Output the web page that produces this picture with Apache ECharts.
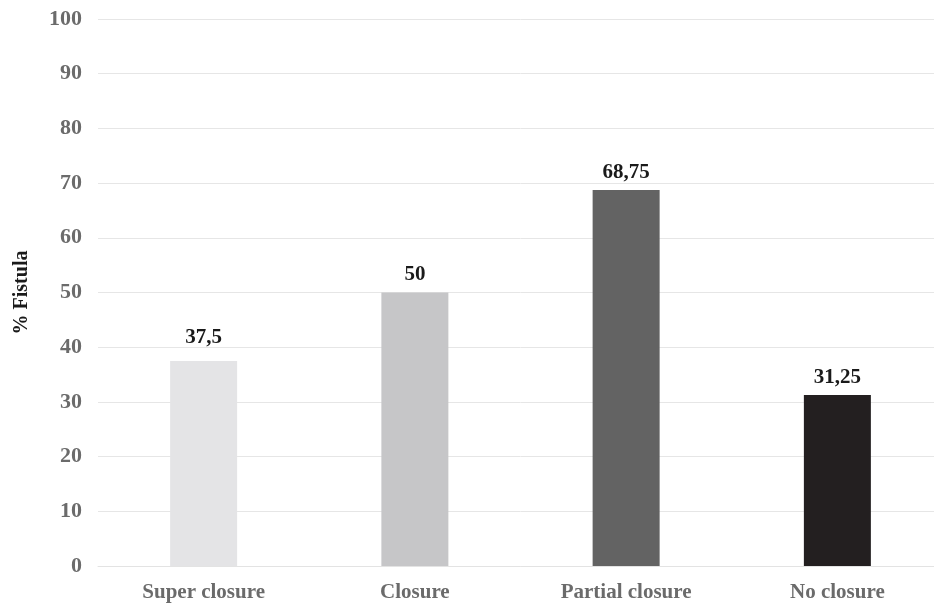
<!DOCTYPE html>
<html>
<head>
<meta charset="utf-8">
<script src="https://cdn.jsdelivr.net/npm/echarts@6/dist/echarts.min.js"></script>
<style>
  html, body { margin: 0; padding: 0; background: #ffffff; overflow: hidden; }
  /* the plot band runs a few pixels past the right edge of the window */
  #chart { width: 943px; height: 606px; }
</style>
</head>
<body>
<div id="chart"></div>
<script>
// Fistula rate by closure outcome
const categories = ['Super closure', 'Closure', 'Partial closure', 'No closure'];
const fistulaPct = [37.5, 50, 68.75, 31.25];
const barColors = ['#e4e4e6', '#c6c6c8', '#636363', '#231f20'];
const labelGaps = [13, 7, 7, 7];

const serif = '"Liberation Serif", "DejaVu Serif", serif';

const chart = echarts.init(document.getElementById('chart'), null, { renderer: 'canvas' });

chart.setOption({
  animation: false,
  backgroundColor: '#ffffff',
  grid: { left: 98, top: 19, right: 0, height: 547, containLabel: false },
  xAxis: {
    type: 'category',
    data: categories,
    axisLine: { show: true, lineStyle: { color: '#e3e3e3', width: 1 } },
    axisTick: { show: false },
    axisLabel: {
      color: '#6b6b6b', fontFamily: serif, fontWeight: 'bold', fontSize: 21, margin: 16
    }
  },
  yAxis: {
    type: 'value',
    min: 0, max: 100, interval: 10,
    name: '% Fistula',
    nameLocation: 'middle',
    nameGap: 66,
    nameRotate: 90,
    nameTextStyle: { color: '#1a1a1a', fontFamily: serif, fontWeight: 'bold', fontSize: 20 },
    axisLine: { show: false },
    axisTick: { show: false },
    axisLabel: {
      color: '#6b6b6b', fontFamily: serif, fontWeight: 'bold', fontSize: 22, margin: 16
    },
    splitLine: { lineStyle: { color: '#e6e6e6', width: 1 } }
  },
  series: [{
    type: 'bar',
    barWidth: 67,
    data: fistulaPct.map((v, i) => ({
      value: v,
      itemStyle: { color: barColors[i] },
      label: { distance: labelGaps[i] }
    })),
    label: {
      show: true,
      position: 'top',
      color: '#1a1a1a',
      fontFamily: serif,
      fontWeight: 'bold',
      fontSize: 21,
      formatter: p => String(p.value).replace('.', ',')
    }
  }]
});
</script>
</body>
</html>
